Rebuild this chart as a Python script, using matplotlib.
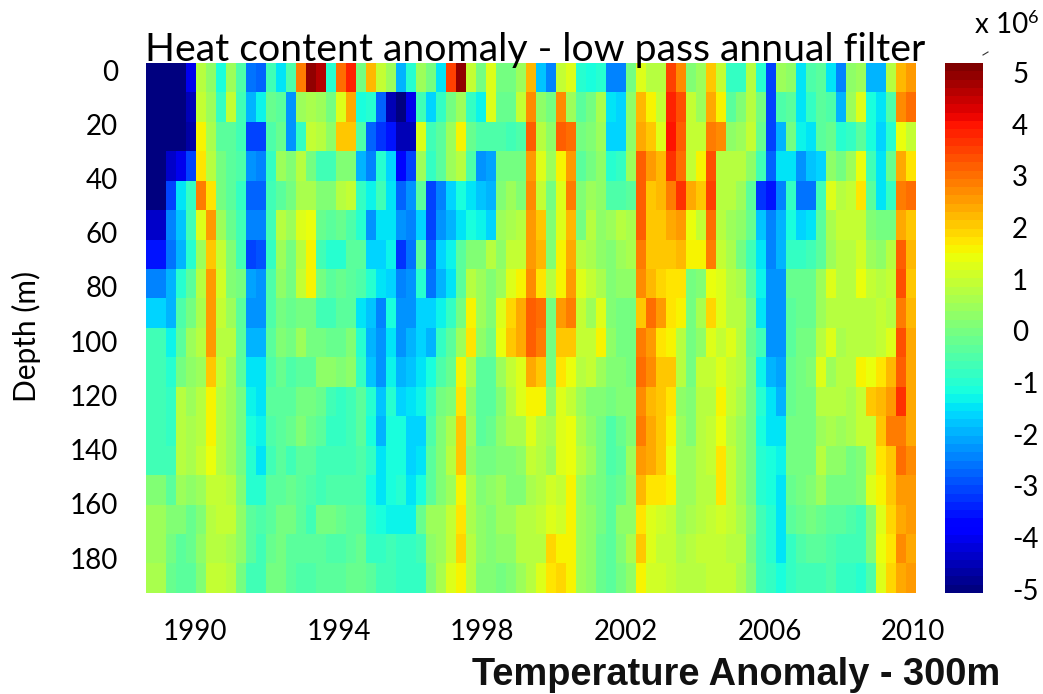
import numpy as np
import matplotlib
matplotlib.use("Agg")
import matplotlib.pyplot as plt
from matplotlib.colors import Normalize
from matplotlib.lines import Line2D

plt.rcParams['font.family'] = ['Lato', 'DejaVu Sans']

W, H = 1043, 694

d00 = [-5,-5,-5,-5,-4,0.8,0.3,-1.2,0.5,-0.5,-2.6,-2.8,-0.7,-1.5,-0.5,2.9,5,4.6,-1,3,3.8,0,2.2,1,0.5,-2,-1,0.5,0,-1.5,3.5,5,1,0,1.2,0,0,0.5,2.2,
       -1.8,-2.5,1,1.2,-1,-1.2,-1,-2.5,-2.5,0,1.3,0.8,0.8,3.5,2.7,0.2,0.5,2,1,-0.8,-0.8,0.7,-1,-3,0.5,0.3,-1.4,-0.5,-0.3,-1.5,-2.5,0.3,0.5,-2,-2,0.7,2.2,2.5]
d01 = [-5,-5,-5,-5,-4.5,0.9,0.5,-0.8,0.9,-0.6,-2,-1.3,-0.2,-0.3,-2.3,0.4,0.6,0.4,0,1.3,2.4,-1.2,-1,-2.7,-4.5,-5,-4,-0.6,-1.6,-0.8,0,0.5,-0.8,-1.3,1.3,-0.2,-0.2,1,2.7,
       0.3,0,2.7,0.4,-0.4,0,0.6,-1.5,-1.6,0.3,2.2,1.6,0.9,3.8,3.3,0.9,0.5,2.3,1.5,-0.3,0.1,0.7,0,-3,-0.5,-0.4,-1.5,-0.8,-0.3,-0.5,-2,0.4,1.3,-1.2,-1.5,-0.5,2.7,3]
d02 = [-5,-5,-5,-5,-4.7,1.6,0.6,-0.3,-0.3,-0.6,-3,-3,-0.5,-0.2,-2.3,-0.8,1,0.8,0.3,2,2,-0.5,-2.8,-3.3,-3.5,-4.5,-4.5,1.2,-0.6,-0.3,0.4,1.6,-0.2,-0.5,-0.5,-0.5,-0.6,-0.5,3.2,
       0.7,0.3,3.2,3,0,0.1,0.5,-1.6,-1.7,0.3,2.4,2,1.3,3.9,3.2,1,1,2.9,2.7,0.3,0.5,0.9,-0.2,-3,-2,0,-1.3,-1.4,-0.3,-0.2,-1,-0.8,-0.3,-1.2,-1.7,-1,1.4,1]
d03 = [-5,-5,-4.4,-4,-3,1.7,0.8,0,-0.3,-0.5,-2.2,-2.4,-0.8,0.5,0.2,0.8,0,-0.6,-0.6,0.1,0.2,-2,-2.4,-1,-1.6,-3.7,-3,0.5,-0.8,-0.3,0.4,0.7,-0.5,-2.2,-2.1,0,0,-0.1,2.6,
       1.3,0.4,1.5,2.6,-0.3,0,0.3,-1,-0.8,0.4,3.2,2.6,2.2,3.7,3,0.9,1.6,3.4,0.7,0.8,0.7,0.3,-0.6,-2.7,-1.4,-1.4,-2.2,-1.8,-1.6,0.3,0,0.5,1.4,-0.6,-1.4,-0.2,2.4,1.8]
d04 = [-5,-5,-3,-1.5,-0.8,2.8,1.8,0,-0.4,-0.8,-2.8,-2.8,-0.6,-0.4,0,0.6,0.6,0.2,0.2,0.7,1,-0.8,-1.3,-0.6,-1.4,-2.7,-2.3,-0.3,-3,-2.5,-1.7,-1.2,-1.4,-1.8,-2,0.1,0.4,0.2,2.7,
       1,0,1.3,2.8,0.1,0.5,0.3,-0.5,-0.5,-0.3,3.1,2,2.2,2.9,3.6,2.4,2,3.5,0.8,0.7,0.5,-0.4,-3.2,-3.5,-2.5,-0.8,-2.6,-2.6,-0.7,1.2,0.8,0.9,1.7,-0.4,-1.4,-0.9,2.9,3]
d05 = [-4.4,-4.4,-2.5,-1.8,-0.6,1.2,2.5,0.5,-0.2,-0.7,-2.5,-2.5,-0.6,0.7,0.5,1.2,1.4,-0.2,-0.4,-0.2,-0.5,-1,-2.2,-1.4,-1.4,-2.2,-2.5,-1.6,-3,-2.2,-1.9,-1.5,-1.2,-1.3,-1.6,0.5,0.6,0.8,2.6,
       2,0.2,1.3,2.2,0,0.7,0.3,0.5,0.7,0.6,3.1,2,2.1,2.3,2.6,1.4,1,3,0.7,0.5,0.3,-0.2,-1.8,-2.5,-2,-1.2,-1.6,-1.5,-0.3,0.6,0.9,0.9,0.9,0.2,0,0,2.4,2]
d06 = [-3.6,-3.6,-2.6,-1.9,-1,0.4,2,1,0.2,-0.6,-3,-2.9,-0.8,0.4,0,0.7,1.5,-0.6,-1,-1,-0.3,-0.3,-1.6,-1.6,-1.3,-3.2,-2.6,-0.4,-2.7,-1.6,-1.3,-0.3,0.2,0.2,0.8,0.3,0.9,1,2.6,
       2.2,0.2,1.6,2.3,0.8,0.6,0.3,0.2,0.4,0.6,2.8,2,2,2.1,2.2,1.5,1.5,2.8,1,0.6,0,-0.6,-1.4,-2.4,-2,-0.8,-0.8,-0.7,-0.3,0.5,0.7,0.7,1.1,0.5,0.3,0.7,3.1,2.2]
d07 = [-2.4,-2.4,-2,-1,-0.4,0.7,2.5,1.1,0.2,0,-2.1,-2.2,-0.5,0.3,0,0.9,1.6,-0.1,-0.4,-0.2,-0.3,-0.5,-1,-1.4,-1.7,-2.4,-2.3,-1,-2.6,-2,-1.4,-0.3,0.7,0.4,0.1,0.4,1.2,1.5,2.7,
       1.8,0.7,1.5,2.6,1.3,0.9,0.6,0.2,0.3,0.3,2.7,2.2,1.9,1.7,1.7,0,0.1,1.4,1.2,0.8,0.6,-0.3,-1.3,-2.2,-2.3,-0.2,-0.2,-0.2,0.5,1.2,0.7,0.7,1.4,0.9,0.7,1,3.4,2]
d08 = [-1.6,-1.6,-1.9,-0.5,-0.1,0.6,2.5,1,0.5,-0.3,-2.2,-2.2,-0.5,-0.1,-0.2,-0.1,0,-0.6,-0.7,-0.3,-0.4,-1.4,-1.8,-2.4,-1.2,-2.2,-2.2,-1.6,-1.7,-1.3,-0.8,0,1.6,0.5,0.2,1.3,1.9,2.3,3.1,
       3,0,2.5,2.8,1,0.5,1.3,0.2,0,0,2,3,2.5,1.8,1.6,0,0.6,1.9,1.2,0.8,0.7,-0.1,-1.5,-2.2,-2.3,-0.4,-0.2,-0.2,0.5,0.7,0.7,0.7,0.7,0.8,0.9,0.8,2.8,2.2]
d09 = [-0.7,-0.7,-1.3,-0.3,0.4,0.8,2.6,0.8,0.7,-0.3,-1.9,-2,-0.4,0.2,-0.1,0.5,0,-0.1,-0.2,-0.2,0.1,-1,-2,-2.3,-1.5,-2.2,-2,-1.7,-1.9,-0.8,-0.3,0.4,1.8,0.3,0,1.4,2,2.3,3.1,
       2.8,0,2,2,1,1,1.6,0.3,0,0,2.8,2.5,1.8,1.6,0.8,0,0.3,1.3,1,1.3,0.8,-0.2,-0.6,-2.2,-2.2,-0.3,0,0,0.7,1.2,0.6,0.7,0.8,0.8,1,1.3,3.4,2.4]
d10 = [-0.7,-0.7,-1,-0.1,0.3,0.4,2,1,0.5,-0.3,-1.5,-1.5,-0.5,-0.2,-0.5,-0.3,-0.4,0.3,0.3,0.2,0.3,-0.9,-1.8,-2.2,-1.3,-2,-1.8,-1.4,-1.2,-0.5,-0.2,1.6,0.6,-0.3,-0.3,0.5,1,1.2,2.3,
       2,0,1.8,1.4,0.8,1,0.5,0.2,0.2,0,3,2.7,2,2,0.7,0,0.9,1,1.2,0.9,0.8,0,-1.3,-1.9,-2.1,-0.2,0,0.2,1.3,0.4,0.7,0.7,1.5,1.4,1.8,2.2,3.2,2.4]
d11 = [-0.7,-0.7,-0.8,0.7,0.5,0.8,1.6,0.8,0.5,-0.1,-1.3,-1.4,-0.4,-0.3,-0.3,0,0,-0.2,-0.7,-0.9,-0.7,-0.4,-1,-1.8,-1,-1.6,-1.5,-1.3,-0.7,-0.1,0.2,1.7,0.3,-0.4,-0.3,0.2,0.8,1.2,1.5,
       1.5,0.3,1.2,1,0.5,0.2,0.1,-0.1,0.2,0.2,2.7,2.2,2.1,1.8,0.3,0.1,0.8,0.8,1.5,0.9,0.6,0,-1,-1.5,-2,-0.2,0,0,0.8,0.7,0.7,0.6,1,2,2.2,2.6,3.6,2.4]
d12 = [-0.7,-0.7,-0.8,0.8,0.6,0.8,1.6,0.7,0.4,0,-1.2,-1.3,-0.5,-0.3,-0.2,0.1,-0.2,-0.4,-0.8,-0.8,-0.7,-0.4,-1.2,-1.9,-1.2,-1.2,-1.7,-1.6,-0.5,0.1,0.6,2,0.4,-0.3,-0.2,0.3,0.6,0.6,1.3,
       0.8,0.6,1.2,1.4,0.6,0.3,0,-0.5,-0.2,0.1,2.8,2.3,2.1,1.6,0.5,0.2,0.7,0.9,1.4,0.8,0.5,0,-1.2,-1.4,-1.5,0,0,0,0.5,0.6,0.5,0.6,0.9,1,2,2.8,2.9,2.4]
d13 = [-0.7,-0.7,-0.6,0.8,0.6,0.9,1.4,0.7,0.5,0,-1,-1.4,-0.7,-0.4,-0.6,-0.3,-0.3,-0.6,-0.7,-0.7,-0.7,-0.5,-0.8,-1.5,-1.2,-1.2,-1.7,-1.4,-0.3,0.2,0.7,2,0.3,0,0,0.2,0.2,0.3,0.9,
       0.7,0.5,1.2,1.4,0.7,0.5,0,-0.5,-0.3,0.5,2.5,2.3,2,1.4,0.4,0.5,0.8,0.9,1.7,0.9,0.5,0,-1,-1.1,-1.3,0,0,0,0.7,0.3,0.3,0,0.2,0.9,1.8,2,3,2.7]
d14 = [0.2,0.2,-0.4,0.5,0.3,0.5,1,0.9,0.7,0.2,-1,-1,-0.3,-0.4,-0.2,-0.3,-0.5,-0.6,-0.5,-0.5,-0.5,-0.5,-1.2,-1.5,-1.2,-1,-1.4,-1.2,-0.3,0.2,0.4,1.5,0.6,0.1,0.3,0.5,0.1,0.2,0.6,
       0.8,1.1,1,1.5,0.4,0.2,0,-0.4,-0.2,0.3,2.2,1.8,1.7,1.6,0.4,0.5,0.8,0.8,1.8,1,0.5,0,-1,-1.1,-1.5,-0.2,0,0.1,0.4,-0.1,-0.1,-0.1,0.2,1.3,1.5,2,2.6,2.6]
d15 = [0.4,0.4,0.1,0.1,-0.2,0.2,0.7,1,0.9,0.3,-0.4,-0.5,-0.3,0,0,-0.3,-0.6,0,0,-0.2,-0.3,-0.3,-1,-1.2,-1.3,-1.3,-1.3,-0.2,0.4,0.4,0.9,1.8,0.6,0.3,0.2,0.5,0.5,0.8,0.7,
       0.9,1.3,1.1,1.5,0.4,0.3,0,-0.3,0.3,0.3,1.8,1.2,1.1,0.9,0.5,0.6,0.7,0.9,1.1,0.9,0.6,0.1,-0.7,-1,-1.4,-0.4,-0.2,-0.1,-0.2,-0.3,-0.4,-0.5,-0.6,0.1,1.3,1.9,2.4,2.5]
d16 = [0.4,0.4,0,-0.4,-0.2,0.3,0.8,0.8,0.6,0.3,-0.3,-0.6,-0.2,0,-0.3,-0.3,-0.4,-0.3,-0.5,-0.5,-0.3,-0.2,-0.8,-0.9,-0.7,-0.8,-0.9,-0.6,0.3,0.5,0.9,1.9,0.7,0.3,0.2,0.3,0.3,0.7,0.7,
       0.8,1.9,1.6,1.6,0.5,0.3,-0.2,-0.3,0.1,0.6,2.1,1.3,1,0.9,0.6,0.8,0.9,0.9,1,0.8,0.7,0,-0.6,-1,-1.4,-0.8,-0.5,-0.4,-0.3,-0.5,-0.6,-0.7,-0.6,0.1,1.4,1.7,2.7,2.3]
d17 = [0.6,0.6,-0.2,-0.4,-0.3,0.2,1,1,0.8,0,-0.6,-0.6,0,0,-0.3,-0.5,-0.5,-0.4,-0.4,-0.3,-0.2,-0.2,-0.4,-0.7,-0.6,-0.8,-0.9,-0.9,0.2,0.6,1.2,1.6,0.8,0.2,0.2,0,0.1,0.4,0.7,
       1.3,1.7,1.9,1.5,0.5,0.3,-0.2,-0.4,0,0.3,1.5,1.1,1.1,0.9,0.7,0.7,0.8,0.9,1,0.9,0.6,0.1,-0.6,-0.9,-1.2,-0.8,-0.7,-0.7,-0.6,-0.5,-0.8,-0.9,-1,-0.5,1.3,1.9,2.3,2.6]

anomaly = np.array([d00,d01,d02,d03,d04,d05,d06,d07,d08,d09,d10,d11,d12,d13,d14,d15,d16,d17], dtype=float)

year_ticks = [1990, 1994, 1998, 2002, 2006, 2010]
depth_ticks = list(range(0, 200, 20))
cbar_ticks = [-5, -4, -3, -2, -1, 0, 1, 2, 3, 4, 5]
title = "Heat content anomaly - low pass annual filter"

fig = plt.figure(figsize=(W/100, H/100), dpi=100)

def box(l, t, r, b):
    return [l/W, 1-b/H, (r-l)/W, (b-t)/H]

ax = fig.add_axes(box(146, 63, 916, 593))
norm = Normalize(-5.07, 5.18)
cmap = plt.get_cmap('jet', 64)
im = ax.imshow(anomaly, aspect='auto', cmap=cmap, norm=norm, interpolation='nearest',
               extent=[1988.64, 2010.08, 192.9, -2.6])
ax.set_xticks(year_ticks)
ax.set_yticks(depth_ticks)
ax.tick_params(length=0, labelsize=20, pad=0)
ax.tick_params(axis='x', pad=19)
ax.tick_params(axis='y', pad=20)
for s in ax.spines.values():
    s.set_visible(False)
ax.set_ylabel("Depth (m)", fontsize=21.5)
ax.yaxis.set_label_coords((41-146)/770, (593-336)/530)

cax = fig.add_axes(box(945, 63, 983, 593))
cb = fig.colorbar(im, cax=cax)
cb.set_ticks(cbar_ticks)
cb.set_ticklabels([str(t) for t in cbar_ticks])
cb.ax.tick_params(length=0, labelsize=20, pad=21)
cb.outline.set_visible(False)

fig.text(145/W, 1-61/H, title, fontsize=28.3, va='baseline', ha='left', color='black')
fig.text(975/W, 1-33/H, "x 10", fontsize=20, va='baseline', ha='left')
fig.text(1033/W, 1-23/H, "6", fontsize=13, va='baseline', ha='center')
fig.add_artist(Line2D([983/W, 988/W], [1-55/H, 1-52/H], color='#333333', lw=0.8))
fig.text(472/W, 1-685/H, "Temperature Anomaly - 300m", fontsize=27.4, fontweight='bold',
         family='Liberation Sans', va='baseline', ha='left', color='#111111')

fig.savefig("out.png", dpi=100)
